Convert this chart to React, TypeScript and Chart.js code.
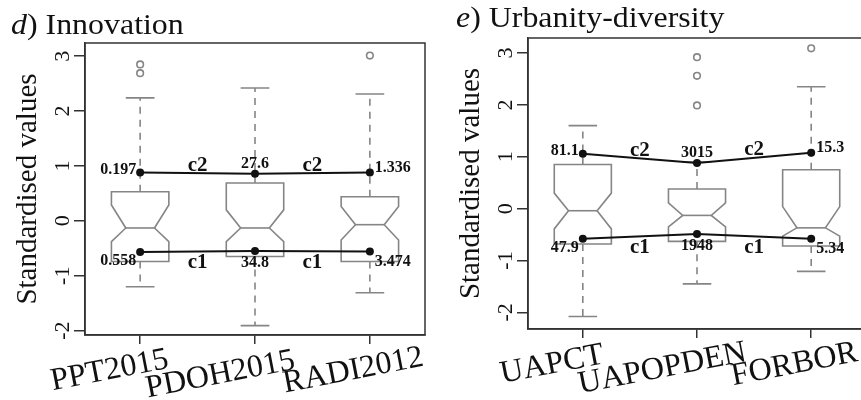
import React, { useEffect, useRef } from 'react';
import { Chart, registerables } from 'chart.js';

Chart.register(...registerables);
Chart.defaults.font.family = '"Liberation Serif", "Times New Roman", serif';

// ---------- shared ticks ----------
const Y_TICKS = [-2, -1, 0, 1, 2, 3];
const X_POS = [1, 2, 3];

// ---------- panel d) Innovation ----------
const D_CATEGORIES = ['PPT2015', 'PDOH2015', 'RADI2012'];
const D_Q1 = [-0.74, -0.65, -0.74];
const D_Q3 = [0.53, 0.69, 0.44];
const D_MEDIAN = [-0.13, -0.13, -0.07];
const D_NOTCH_LO = [-0.38, -0.38, -0.35];
const D_NOTCH_HI = [0.29, 0.2, 0.26];
const D_WHISK_LO = [-1.2, -1.91, -1.31];
const D_WHISK_HI = [2.24, 2.42, 2.31];
const D_OUTLIERS = [[2.85, 2.69], [], [3.01]];
const D_C2 = [0.88, 0.86, 0.88];
const D_C1 = [-0.57, -0.55, -0.56];
const D_C2_LABELS = ['0.197', '27.6', '1.336'];
const D_C1_LABELS = ['0.558', '34.8', '3.474'];

// ---------- panel e) Urbanity-diversity ----------
const E_CATEGORIES = ['UAPCT', 'UAPOPDEN', 'FORBOR'];
const E_Q1 = [-0.68, -0.63, -0.72];
const E_Q3 = [0.85, 0.38, 0.75];
const E_MEDIAN = [-0.04, -0.13, -0.37];
const E_NOTCH_LO = [-0.39, -0.35, -0.53];
const E_NOTCH_HI = [0.3, 0.11, 0.04];
const E_WHISK_LO = [-2.08, -1.45, -1.21];
const E_WHISK_HI = [1.6, 0.9, 2.35];
const E_OUTLIERS = [[], [2.92, 2.56, 1.99], [3.09]];
const E_C2 = [1.06, 0.88, 1.08];
const E_C1 = [-0.58, -0.49, -0.58];
const E_C2_LABELS = ['81.1', '3015', '15.3'];
const E_C1_LABELS = ['47.9', '1948', '5.34'];

const LINK_TOP = 'c2';
const LINK_BOTTOM = 'c1';

// layout-only: horizontal nudge / vertical stagger of slanted category labels
const XLABEL_DX = [-29, -33, -15];
const XLABEL_DY = [44, 48, 44];

type PanelCfg = {
  letter: string;
  title: string;
  categories: string[];
  q1: number[]; q3: number[]; med: number[]; nlo: number[]; nhi: number[];
  wlo: number[]; whi: number[]; out: number[][];
  c2: number[]; c1: number[]; c2Labels: string[]; c1Labels: string[];
  yMin: number; yMax: number;
  canvasLeft: number; canvasWidth: number; padLeft: number; padRight: number;
  padTop: number; xAxisHeight: number; titleLeft: number; titleTop: number;
};

const PANEL_D: PanelCfg = {
  letter: 'd', title: ') Innovation', categories: D_CATEGORIES,
  q1: D_Q1, q3: D_Q3, med: D_MEDIAN, nlo: D_NOTCH_LO, nhi: D_NOTCH_HI,
  wlo: D_WHISK_LO, whi: D_WHISK_HI, out: D_OUTLIERS,
  c2: D_C2, c1: D_C1, c2Labels: D_C2_LABELS, c1Labels: D_C1_LABELS,
  yMin: -2.08, yMax: 3.24,
  canvasLeft: 0, canvasWidth: 430, padLeft: 0, padRight: 5, padTop: 43, xAxisHeight: 65,
  titleLeft: 11, titleTop: 10,
};

const PANEL_E: PanelCfg = {
  letter: 'e', title: ') Urbanity-diversity', categories: E_CATEGORIES,
  q1: E_Q1, q3: E_Q3, med: E_MEDIAN, nlo: E_NOTCH_LO, nhi: E_NOTCH_HI,
  wlo: E_WHISK_LO, whi: E_WHISK_HI, out: E_OUTLIERS,
  c2: E_C2, c1: E_C1, c2Labels: E_C2_LABELS, c1Labels: E_C1_LABELS,
  yMin: -2.32, yMax: 3.29,
  canvasLeft: 430, canvasWidth: 440, padLeft: 13, padRight: 1.6, padTop: 38, xAxisHeight: 71,
  titleLeft: 26, titleTop: 3,
};

const GRAY = '#858585';
const DARK = '#333333';
const INK = '#111111';
const SERIF = '"Liberation Serif", "Times New Roman", serif';

function makePlugin(cfg: PanelCfg) {
  return {
    id: 'notchedBoxes',
    beforeDatasetsDraw(chart: any) {
      const { ctx, chartArea, scales } = chart;
      const x = scales.x, y = scales.y;
      ctx.save();
      ctx.strokeStyle = DARK;
      ctx.lineWidth = 1.5;
      ctx.strokeRect(chartArea.left, chartArea.top, chartArea.right - chartArea.left, chartArea.bottom - chartArea.top);
      ctx.lineWidth = 1.6;
      ctx.strokeStyle = GRAY;
      for (let i = 0; i < X_POS.length; i++) {
        const cx = x.getPixelForValue(X_POS[i]);
        const hw = x.getPixelForValue(X_POS[i] + 0.25) - cx;
        const sw = hw * 0.5;
        const pq1 = y.getPixelForValue(cfg.q1[i]);
        const pq3 = y.getPixelForValue(cfg.q3[i]);
        const pm = y.getPixelForValue(cfg.med[i]);
        const pnl = y.getPixelForValue(cfg.nlo[i]);
        const pnh = y.getPixelForValue(cfg.nhi[i]);
        const pwl = y.getPixelForValue(cfg.wlo[i]);
        const pwh = y.getPixelForValue(cfg.whi[i]);
        ctx.setLineDash([7, 6]);
        ctx.beginPath();
        ctx.moveTo(cx, pq3); ctx.lineTo(cx, pwh);
        ctx.moveTo(cx, pq1); ctx.lineTo(cx, pwl);
        ctx.stroke();
        ctx.setLineDash([]);
        ctx.beginPath();
        ctx.moveTo(cx - sw, pwh); ctx.lineTo(cx + sw, pwh);
        ctx.moveTo(cx - sw, pwl); ctx.lineTo(cx + sw, pwl);
        ctx.stroke();
        ctx.beginPath();
        ctx.moveTo(cx - hw, pq3);
        ctx.lineTo(cx + hw, pq3);
        ctx.lineTo(cx + hw, pnh);
        ctx.lineTo(cx + hw / 2, pm);
        ctx.lineTo(cx + hw, pnl);
        ctx.lineTo(cx + hw, pq1);
        ctx.lineTo(cx - hw, pq1);
        ctx.lineTo(cx - hw, pnl);
        ctx.lineTo(cx - hw / 2, pm);
        ctx.lineTo(cx - hw, pnh);
        ctx.closePath();
        ctx.fillStyle = '#ffffff';
        ctx.fill();
        ctx.stroke();
        ctx.beginPath();
        ctx.moveTo(cx - hw / 2, pm); ctx.lineTo(cx + hw / 2, pm);
        ctx.stroke();
        for (const v of cfg.out[i]) {
          ctx.beginPath();
          ctx.arc(cx, y.getPixelForValue(v), 3.3, 0, Math.PI * 2);
          ctx.stroke();
        }
      }
      ctx.restore();
    },
    afterDatasetsDraw(chart: any) {
      const { ctx, chartArea, scales } = chart;
      const x = scales.x, y = scales.y;
      ctx.save();
      ctx.fillStyle = INK;
      ctx.textBaseline = 'middle';
      ctx.font = `bold 16px ${SERIF}`;
      const place = (vals: number[], labels: string[], dy: number[]) => {
        for (let i = 0; i < X_POS.length; i++) {
          const px = x.getPixelForValue(X_POS[i]);
          const py = y.getPixelForValue(vals[i]);
          if (i === 0) { ctx.textAlign = 'right'; ctx.fillText(labels[i], px - 4, py + dy[i]); }
          else if (i === X_POS.length - 1) { ctx.textAlign = 'left'; ctx.fillText(labels[i], px + 5, py + dy[i]); }
          else { ctx.textAlign = 'center'; ctx.fillText(labels[i], px, py + dy[i]); }
        }
      };
      place(cfg.c2, cfg.c2Labels, [-3, -10, -5]);
      place(cfg.c1, cfg.c1Labels, [9, 12, 10]);
      ctx.font = `bold 21px ${SERIF}`;
      ctx.textAlign = 'center';
      for (let i = 0; i < X_POS.length - 1; i++) {
        const mx = (x.getPixelForValue(X_POS[i]) + x.getPixelForValue(X_POS[i + 1])) / 2;
        const m2 = (y.getPixelForValue(cfg.c2[i]) + y.getPixelForValue(cfg.c2[i + 1])) / 2;
        const m1 = (y.getPixelForValue(cfg.c1[i]) + y.getPixelForValue(cfg.c1[i + 1])) / 2;
        ctx.fillText(LINK_TOP, mx, m2 - 8);
        ctx.fillText(LINK_BOTTOM, mx, m1 + 11);
      }
      ctx.font = `32px ${SERIF}`;
      ctx.textBaseline = 'alphabetic';
      ctx.textAlign = 'center';
      for (let i = 0; i < X_POS.length; i++) {
        const px = x.getPixelForValue(X_POS[i]);
        ctx.save();
        ctx.translate(px + XLABEL_DX[i], chartArea.bottom + XLABEL_DY[i]);
        ctx.rotate(-11 * Math.PI / 180);
        ctx.fillText(cfg.categories[i], 0, 0);
        ctx.restore();
      }
      ctx.restore();
    },
  };
}

function Panel({ cfg }: { cfg: PanelCfg }) {
  const ref = useRef<HTMLCanvasElement>(null);
  useEffect(() => {
    if (!ref.current) return;
    const lineDs = (vals: number[], label: string) => ({
      type: 'line' as const,
      label,
      data: X_POS.map((p, i) => ({ x: p, y: vals[i] })),
      borderColor: INK,
      backgroundColor: INK,
      borderWidth: 2,
      pointRadius: 4,
      pointBackgroundColor: INK,
      pointBorderWidth: 0,
      tension: 0,
    });
    const chart = new Chart(ref.current, {
      type: 'line',
      data: { datasets: [lineDs(cfg.c2, LINK_TOP), lineDs(cfg.c1, LINK_BOTTOM)] },
      options: {
        animation: false,
        responsive: false,
        events: [],
        layout: { padding: { left: cfg.padLeft, right: cfg.padRight, top: cfg.padTop, bottom: 0 } },
        plugins: { legend: { display: false }, tooltip: { enabled: false } },
        scales: {
          x: {
            type: 'linear', min: 0.52, max: 3.48,
            afterBuildTicks: (s: any) => { s.ticks = X_POS.map((v) => ({ value: v })); },
            afterFit: (s: any) => { s.height = cfg.xAxisHeight; },
            ticks: { display: false },
            grid: { drawOnChartArea: false, drawTicks: true, tickLength: 9, color: DARK, lineWidth: 1.5 },
            border: { display: true, color: DARK, width: 1.5 },
          },
          y: {
            type: 'linear', min: cfg.yMin, max: cfg.yMax,
            afterBuildTicks: (s: any) => { s.ticks = Y_TICKS.map((v) => ({ value: v })); },
            afterFit: (s: any) => { s.width = 85; },
            ticks: {
              minRotation: 90, maxRotation: 90, crossAlign: 'center', padding: 2,
              color: INK, font: { size: 22 }, callback: (v: any) => String(v),
            },
            grid: { drawOnChartArea: false, drawTicks: true, tickLength: 11, color: DARK, lineWidth: 1.5 },
            border: { display: true, color: DARK, width: 1.5 },
            title: { display: true, text: 'Standardised values', color: INK, font: { size: 29 }, padding: { top: 11, bottom: 0 } },
          },
        },
      } as any,
      plugins: [makePlugin(cfg)],
    });
    return () => chart.destroy();
  }, [cfg]);
  return (
    <div style={{ position: 'absolute', left: cfg.canvasLeft, top: 0, width: cfg.canvasWidth, height: 400 }}>
      <canvas ref={ref} width={cfg.canvasWidth} height={400} style={{ display: 'block', width: cfg.canvasWidth, height: 400 }} />
      <div
        style={{
          position: 'absolute', left: cfg.titleLeft, top: cfg.titleTop, whiteSpace: 'nowrap',
          fontFamily: SERIF, fontSize: 29, lineHeight: '29px', color: INK,
          transform: 'scaleX(1.1)', transformOrigin: 'left top',
        }}
      >
        <i>{cfg.letter}</i>{cfg.title}
      </div>
    </div>
  );
}

export default function App() {
  return (
    <div style={{ position: 'absolute', left: 0, top: 0, width: 861, height: 400, overflow: 'hidden', background: '#fff' }}>
      <Panel cfg={PANEL_D} />
      <Panel cfg={PANEL_E} />
    </div>
  );
}
